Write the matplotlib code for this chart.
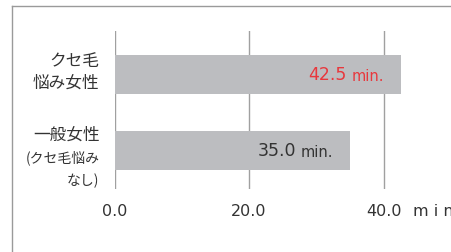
import matplotlib.pyplot as plt
from matplotlib.lines import Line2D

plt.rcParams['font.family'] = ['Noto Sans CJK JP', 'DejaVu Sans']

# data
groups = ["クセ毛\n悩み女性", "一般女性"]
sub_labels = ["", "(クセ毛悩み\nなし)"]
minutes = [42.5, 35.0]
value_colors = ["#e8383d", "#333333"]
ticks = [0, 20, 40]
tick_labels = ["0.0", "20.0", "40.0"]
unit = "m i n"

W, H = 451, 253
fig = plt.figure(figsize=(W / 100, H / 100), dpi=100)

# frame lines (top + left)
fig.add_artist(Line2D([12 / W, 1], [1 - 7 / H, 1 - 7 / H], color="#9a9a9a", lw=1))
fig.add_artist(Line2D([12 / W, 12 / W], [0, 1 - 7 / H], color="#9a9a9a", lw=1))

ax = fig.add_axes([114.5 / W, 63 / H, (W - 114.5) / W, (190 - 32) / H])
ypos = list(range(len(minutes)))
ax.barh(ypos, minutes, height=0.51, color="#bcbdc0", zorder=2)
ax.set_xlim(0, 50)
ax.set_ylim(1.507, -0.572)

for x in ticks:
    ax.axvline(x, color="#a0a0a0", lw=1, zorder=1)

for s in ax.spines.values():
    s.set_visible(False)
ax.set_yticks([])
ax.set_xticks(ticks)
ax.set_xticklabels(tick_labels, fontsize=11.5, color="#333333", family="DejaVu Sans")
ax.tick_params(axis="x", length=0, pad=10)
ax.annotate(unit, xy=(ticks[-1], 0), xycoords=ax.get_xaxis_transform(),
            xytext=(21, -10), textcoords="offset points", fontsize=11.5,
            color="#333333", family="DejaVu Sans", va="top", ha="left",
            annotation_clip=False)

# value labels inside bars
for y, v, c in zip(ypos, minutes, value_colors):
    ax.annotate(f"{v:.1f}", xy=(v, y), xytext=(-38.5, 0), textcoords="offset points",
                ha="right", va="center", fontsize=12.5, color=c, family="DejaVu Sans")
    ax.annotate("min.", xy=(v, y), xytext=(-12, -0.5), textcoords="offset points",
                ha="right", va="center", fontsize=10.5, color=c, family="DejaVu Sans")

# category labels
lx = -15 / 6.725
ax.text(lx, -0.04, groups[0], ha="right", va="center", fontsize=12,
        color="#333333", linespacing=1.3)
ax.text(lx, 1 - 0.217, groups[1], ha="right", va="center", fontsize=12,
        color="#333333")
ax.text(lx, 1 + 0.237, sub_labels[1], ha="right", va="center", fontsize=10,
        color="#333333", linespacing=1.75)

fig.savefig("out.png", dpi=100)
